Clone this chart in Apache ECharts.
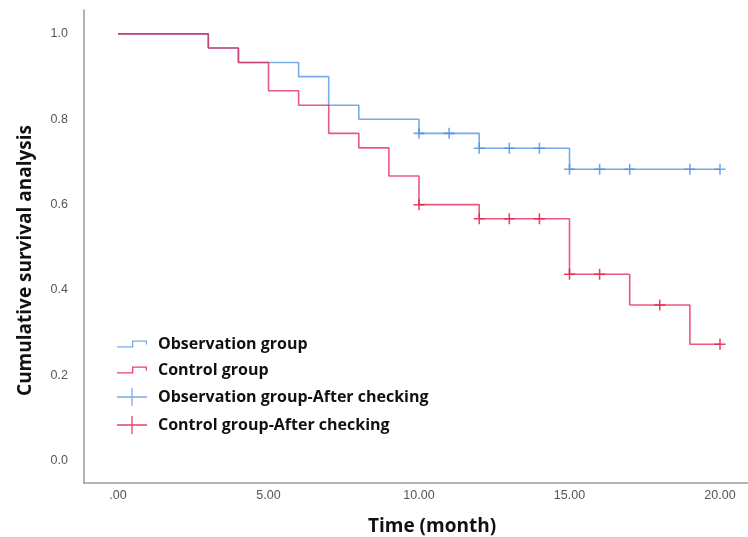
<!DOCTYPE html>
<html>
<head>
<meta charset="utf-8">
<script src="https://cdn.jsdelivr.net/npm/echarts@6/dist/echarts.min.js"></script>
<style>html,body{margin:0;padding:0;background:#fff;}#c{width:748px;height:537px;}</style>
</head>
<body>
<div id="c"></div>
<script>
// Observation group (Kaplan-Meier steps)
var obsTimes = [0, 3, 4, 6, 7, 8, 10, 12, 15, 20];
var obsSurv  = [1.0, 0.967, 0.933, 0.9, 0.833, 0.8, 0.767, 0.732, 0.683, 0.683];
// Control group
var ctlTimes = [0, 3, 4, 5, 6, 7, 8, 9, 10, 12, 15, 17, 19, 20];
var ctlSurv  = [1.0, 0.967, 0.933, 0.867, 0.833, 0.767, 0.733, 0.667, 0.6, 0.567, 0.437, 0.365, 0.273, 0.273];
// Censored observations
var obsCensTimes = [10, 11, 12, 13, 14, 15, 16, 17, 19, 20];
var obsCensSurv  = [0.767, 0.767, 0.732, 0.732, 0.732, 0.683, 0.683, 0.683, 0.683, 0.683];
var ctlCensTimes = [10, 12, 13, 14, 15, 16, 18, 20];
var ctlCensSurv  = [0.6, 0.567, 0.567, 0.567, 0.437, 0.437, 0.365, 0.273];
// Tick labels
var xTicks = [0, 5, 10, 15, 20];
var yTicks = [0, 0.2, 0.4, 0.6, 0.8, 1.0];
var legendNames = ['Observation group', 'Control group', 'Observation group-After checking', 'Control group-After checking'];

var BLUE = '#4a8fe3';
var RED = '#e3224f';

function pairs(xs, ys) { return xs.map(function (x, i) { return [x, ys[i]]; }); }

var plusPath = 'path://M4.3,0 L5.7,0 L5.7,4.3 L10,4.3 L10,5.7 L5.7,5.7 L5.7,10 L4.3,10 L4.3,5.7 L0,5.7 L0,4.3 L4.3,4.3 Z';
var stepIcon = 'path://M0,5.7 L15,5.7 L15,0 L30,0 L30,4 L28.7,4 L28.7,1.3 L16.3,1.3 L16.3,7 L0,7 Z';
var plusIcon = 'path://M0,8.35 L14.35,8.35 L14.35,0 L15.65,0 L15.65,8.35 L30,8.35 L30,9.65 L15.65,9.65 L15.65,18 L14.35,18 L14.35,9.65 L0,9.65 Z';

var chart = echarts.init(document.getElementById('c'), null, { renderer: 'canvas' });
chart.setOption({
  animation: false,
  backgroundColor: '#ffffff',
  grid: { left: 84, right: 0, top: 10, bottom: 54, containLabel: false, outerBoundsMode: 'none' },
  legend: {
    orient: 'vertical',
    left: 112,
    top: 331,
    itemWidth: 30,
    itemHeight: 18,
    itemGap: 10,
    symbolKeepAspect: true,
    textStyle: { fontFamily: 'Open Sans', fontWeight: 'bold', fontSize: 16, color: '#111', padding: [0, 0, 0, 6] },
    data: [
      { name: legendNames[0], icon: stepIcon, itemStyle: { color: BLUE, opacity: 0.75 } },
      { name: legendNames[1], icon: stepIcon, itemStyle: { color: RED, opacity: 0.85 } },
      { name: legendNames[2], icon: plusIcon, itemStyle: { color: BLUE, opacity: 0.75 } },
      { name: legendNames[3], icon: plusIcon, itemStyle: { color: RED, opacity: 0.85 } }
    ]
  },
  xAxis: {
    type: 'value',
    min: -1.13,
    max: 20.93,
    name: 'Time (month)',
    nameLocation: 'middle',
    nameGap: 34,
    nameTextStyle: { fontFamily: 'Open Sans', fontWeight: 'bold', fontSize: 19, color: '#111', padding: [0, 0, 0, 32] },
    axisLine: { show: true, onZero: false, lineStyle: { color: '#9a9a9a', width: 1.5 } },
    axisTick: { show: false },
    splitLine: { show: false },
    axisLabel: {
      customValues: xTicks,
      margin: 6,
      color: '#555',
      fontFamily: 'Liberation Sans',
      fontSize: 12.5,
      formatter: function (v) { return v === 0 ? '.00' : v.toFixed(2); }
    }
  },
  yAxis: {
    type: 'value',
    min: -0.052,
    max: 1.056,
    name: 'Cumulative survival analysis',
    nameLocation: 'middle',
    nameGap: 49,
    nameRotate: 90,
    nameTextStyle: { fontFamily: 'Open Sans', fontWeight: 'bold', fontSize: 19, color: '#111', padding: [0, 28, 0, 0] },
    axisLine: { show: true, onZero: false, lineStyle: { color: '#9a9a9a', width: 1.5 } },
    axisTick: { show: false },
    splitLine: { show: false },
    axisLabel: {
      customValues: yTicks,
      margin: 16,
      color: '#555',
      fontFamily: 'Liberation Sans',
      fontSize: 12.5,
      formatter: function (v) { return v.toFixed(1); }
    }
  },
  series: [
    {
      name: legendNames[0], type: 'line', step: 'end', showSymbol: false, symbol: 'none',
      data: pairs(obsTimes, obsSurv),
      itemStyle: { color: BLUE },
      lineStyle: { color: BLUE, width: 1.6, opacity: 0.75 }, z: 2
    },
    {
      name: legendNames[1], type: 'line', step: 'end', showSymbol: false, symbol: 'none',
      data: pairs(ctlTimes, ctlSurv),
      itemStyle: { color: RED },
      lineStyle: { color: RED, width: 1.6, opacity: 0.75 }, z: 3
    },
    {
      name: legendNames[2], type: 'scatter', symbol: plusPath, symbolSize: 11,
      data: pairs(obsCensTimes, obsCensSurv),
      itemStyle: { color: BLUE, opacity: 0.8 }, z: 4
    },
    {
      name: legendNames[3], type: 'scatter', symbol: plusPath, symbolSize: 11,
      data: pairs(ctlCensTimes, ctlCensSurv),
      itemStyle: { color: RED, opacity: 0.85 }, z: 5
    }
  ]
});
</script>
</body>
</html>
